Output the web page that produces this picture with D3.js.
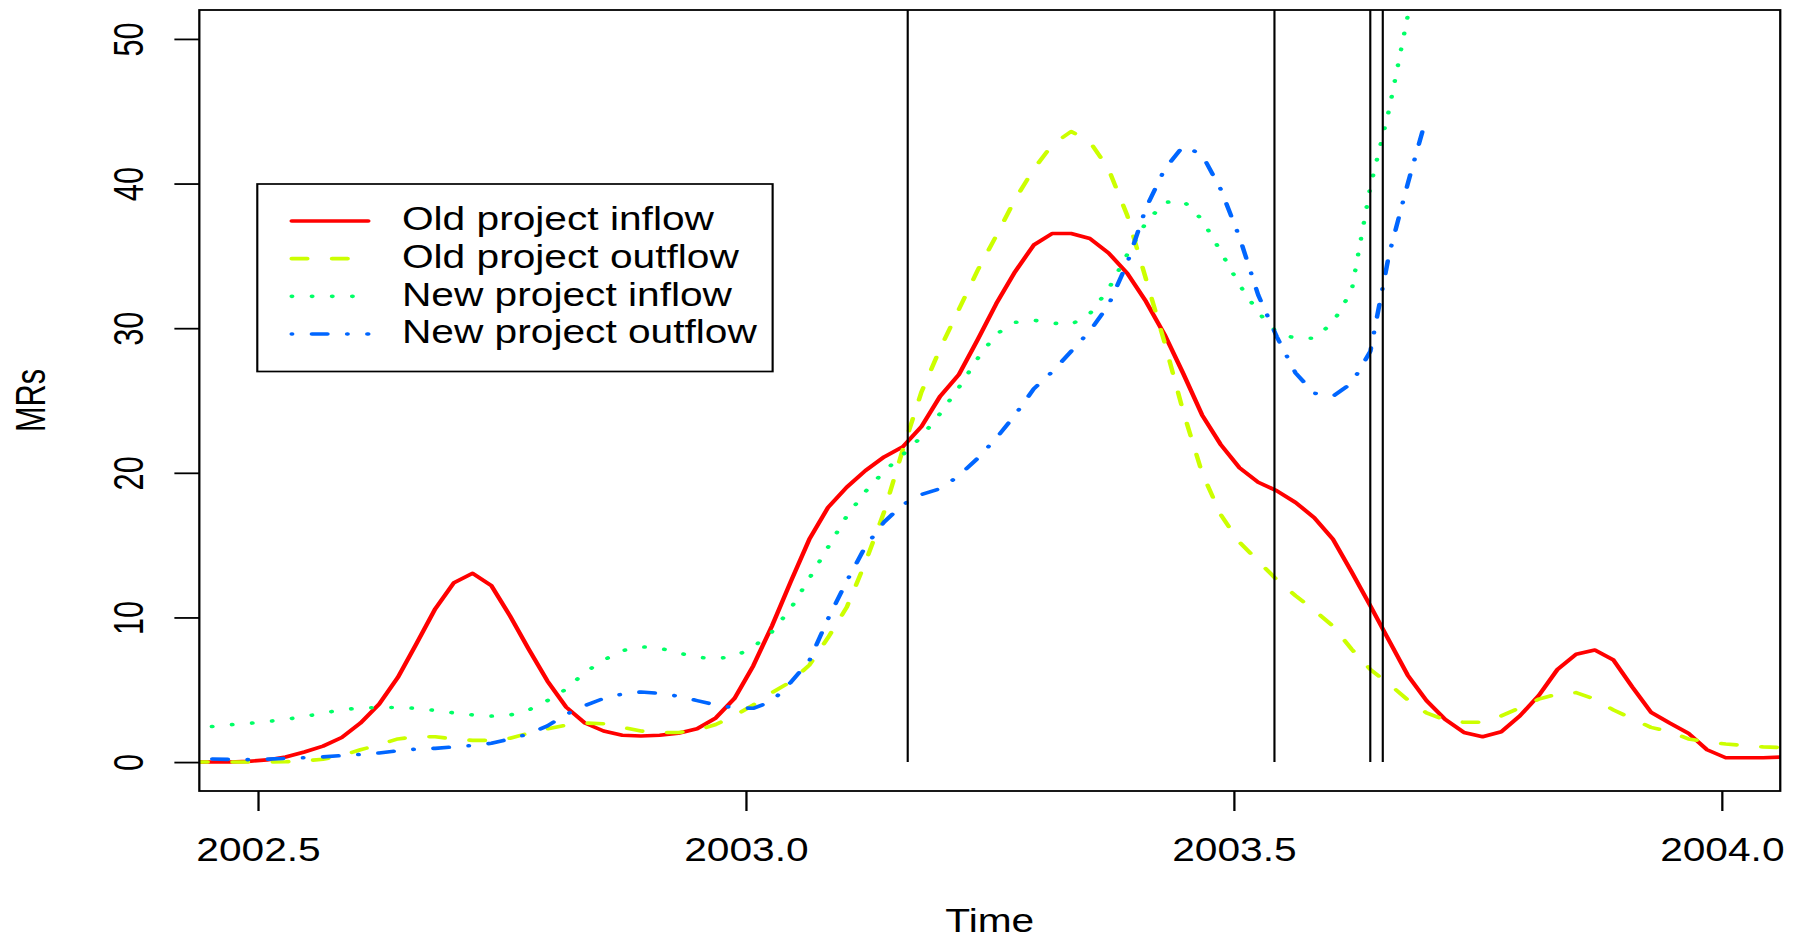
<!DOCTYPE html>
<html>
<head>
<meta charset="utf-8">
<script src="https://cdn.jsdelivr.net/npm/d3@7"></script>
<style>
  body { margin: 0; background: #fff; }
  svg { display: block; }
</style>
</head>
<body>
<script>
// weekly series (like an R ts with start / deltat)
const start = 2002.4326;
const step = 7 / 365.25;

const oldInflow = [0.0, 0.0, 0.0, 0.05, 0.15, 0.35, 0.7, 1.1, 1.7, 2.7,
    4.0, 5.85, 8.2, 10.6, 12.4, 13.05, 12.2, 10.1, 7.8, 5.6,
    3.8, 2.7, 2.15, 1.85, 1.8, 1.85, 2.0, 2.3, 3.05, 4.4,
    6.65, 9.4, 12.45, 15.4, 17.6, 19.0, 20.15, 21.1, 21.8, 23.2,
    25.3, 26.8, 29.2, 31.7, 33.9, 35.75, 36.55, 36.55, 36.2, 35.2,
    33.8, 31.85, 29.55, 26.85, 24.0, 21.95, 20.35, 19.35, 18.75, 17.95,
    16.9, 15.4, 13.15, 10.8, 8.4, 6.0, 4.25, 2.95, 2.05, 1.75,
    2.1, 3.2, 4.6, 6.4, 7.45, 7.75, 7.05, 5.2, 3.45, 2.7,
    2.0, 0.85, 0.3, 0.3, 0.3, 0.35];

const oldOutflow = [0, 0, 0, 0, 0, 0.02, 0.08, 0.2, 0.45, 0.85,
    1.2, 1.6, 1.75, 1.75, 1.6, 1.5, 1.5, 1.65, 2.0, 2.3,
    2.55, 2.7, 2.65, 2.4, 2.15, 2.05, 2.05, 2.2, 2.6, 3.2,
    3.95, 4.8, 5.55, 6.7, 8.6, 10.7, 13.8, 17.3, 21.6, 25.6,
    28.6, 31.3, 34.0, 36.4, 38.9, 41.0, 42.7, 43.6, 42.9, 41.0,
    37.8, 33.4, 29.0, 24.2, 20.0, 17.1, 15.2, 13.9, 12.6, 11.5,
    10.5, 9.4, 7.8, 6.4, 5.4, 4.3, 3.4, 2.9, 2.75, 2.75,
    3.2, 3.75, 4.35, 4.7, 4.8, 4.35, 3.6, 3.0, 2.4, 2.1,
    1.6, 1.4, 1.25, 1.15, 1.05, 1.0];

const newInflow = [2.25, 2.45, 2.58, 2.67, 2.8, 2.95, 3.15, 3.38, 3.62, 3.74,
    3.77, 3.77, 3.72, 3.57, 3.4, 3.26, 3.18, 3.25, 3.6, 4.25,
    5.05, 6.2, 7.05, 7.7, 7.97, 7.88, 7.55, 7.25, 7.15, 7.3,
    7.95, 9.0, 10.6, 12.7, 14.85, 17.0, 18.7, 20.1, 21.25, 22.5,
    24.1, 25.9, 27.9, 29.6, 30.4, 30.55, 30.35, 30.25, 31.0, 32.7,
    35.1, 37.3, 38.7, 38.8, 37.5, 35.3, 33.0, 31.1, 29.7, 29.3,
    29.3, 30.4, 32.6, 39.8, 45.1, 51.6, 57.0];

const newOutflow = [0.25, 0.22, 0.18, 0.17, 0.2, 0.25, 0.3, 0.36, 0.45, 0.53,
    0.63, 0.78, 0.9, 0.95, 1.05, 1.15, 1.3, 1.6, 1.95, 2.5,
    3.3, 3.9, 4.4, 4.7, 4.85, 4.75, 4.55, 4.25, 3.95, 3.75,
    3.72, 4.2, 5.5, 7.0, 9.9, 12.5, 14.9, 16.6, 17.8, 18.5,
    18.9, 19.8, 21.0, 22.4, 24.0, 25.8, 27.0, 28.4, 29.8, 31.6,
    34.5, 38.3, 41.0, 42.6, 42.0, 39.6, 36.3, 32.3, 29.4, 26.9,
    25.5, 25.3, 26.2, 28.4, 35.1, 40.0, 44.6];

const seriesNames = ['Old project inflow', 'Old project outflow', 'New project inflow', 'New project outflow'];
const markerYears = [2003.1659, 2003.5417, 2003.6399, 2003.6527];
const xTickValues = [2002.5, 2003.0, 2003.5, 2004.0];
const yTickValues = [0, 10, 20, 30, 40, 50];

// styles (R rainbow(5), lty 1..4)
const colors = ['#FF0000', '#CCFF00', '#00FF66', '#0066FF'];
const dashes = [null, '12.4 19.6', '0.4 15.6', '0.4 15.6 12.4 15.6'];
const font = '"Liberation Sans", Arial, Helvetica, sans-serif';

// the reference picture is stretched horizontally, so draw in a narrower frame and stretch it
const stretch = 1.26;
const W = 1796, H = 939;
const plot = { left: 158.2, right: 1412.9, top: 10, bottom: 791 };

const svg = d3.select('body').append('svg')
    .attr('width', W)
    .attr('height', H)
    .attr('viewBox', `0 0 ${W / stretch} ${H}`)
    .attr('preserveAspectRatio', 'none');

const x = d3.scaleLinear().domain([2002.44, 2004.06]).range([plot.left, plot.right]);
const y = d3.scaleLinear().domain([-2, 52]).range([plot.bottom, plot.top]);

svg.append('defs').append('clipPath').attr('id', 'clip')
    .append('rect')
    .attr('x', plot.left).attr('y', plot.top)
    .attr('width', plot.right - plot.left).attr('height', plot.bottom - plot.top);

//series lines
const series = [oldInflow, oldOutflow, newInflow, newOutflow];
const line = d3.line()
    .x((d, i) => x(start + i * step))
    .y((d) => y(d));

const chart = svg.append('g').attr('clip-path', 'url(#clip)');
chart.selectAll('path.series').data(series).enter().append('path')
    .attr('class', 'series')
    .attr('d', line)
    .attr('fill', 'none')
    .attr('stroke', (d, i) => colors[i])
    .attr('stroke-width', 3.6)
    .attr('stroke-linejoin', 'round')
    .attr('stroke-linecap', 'round')
    .attr('stroke-dasharray', (d, i) => dashes[i]);

//vertical marker lines, drawn up from zero
chart.selectAll('line.marker').data(markerYears).enter().append('line')
    .attr('class', 'marker')
    .attr('x1', (d) => x(d)).attr('x2', (d) => x(d))
    .attr('y1', y(0)).attr('y2', y(52))
    .attr('stroke', '#000')
    .attr('stroke-width', 1.7);

//box
svg.append('rect')
    .attr('x', plot.left).attr('y', plot.top)
    .attr('width', plot.right - plot.left).attr('height', plot.bottom - plot.top)
    .attr('fill', 'none').attr('stroke', '#000').attr('stroke-width', 1.8);

//x axis
const xAxis = svg.append('g')
    .attr('transform', `translate(0,${plot.bottom})`)
    .call(d3.axisBottom(x).tickValues(xTickValues).tickFormat(d3.format('.1f')).tickSize(20).tickSizeOuter(0));
xAxis.attr('font-family', font).attr('font-size', 32.3);
xAxis.select('.domain').remove();
xAxis.selectAll('.tick line').attr('stroke-width', 1.8);
xAxis.selectAll('.tick text').attr('y', 70).attr('dy', null);

//y axis with rotated labels
const yAxis = svg.append('g')
    .attr('transform', `translate(${plot.left},0)`)
    .call(d3.axisLeft(y).tickValues(yTickValues).tickSize(19.8).tickSizeOuter(0));
yAxis.attr('font-family', font).attr('font-size', 30.7);
yAxis.select('.domain').remove();
yAxis.selectAll('.tick line').attr('stroke-width', 1.8);
yAxis.selectAll('.tick text')
    .attr('x', null).attr('dy', null)
    .attr('text-anchor', 'middle')
    .attr('transform', 'translate(-44.9,0) rotate(-90) scale(1,1.087)');

//axis titles
svg.append('text')
    .attr('x', (plot.left + plot.right) / 2).attr('y', 932)
    .attr('text-anchor', 'middle')
    .attr('font-family', font).attr('font-size', 32.3)
    .text('Time');
svg.append('text')
    .attr('transform', `translate(35.7,${(plot.top + plot.bottom) / 2}) rotate(-90) scale(1,1.087)`)
    .attr('text-anchor', 'middle')
    .attr('font-family', font).attr('font-size', 30.7)
    .text('MRs');

//legend
const legend = svg.append('g');
legend.append('rect')
    .attr('x', 204.2).attr('y', 184)
    .attr('width', 409).attr('height', 187.5)
    .attr('fill', '#fff').attr('stroke', '#000').attr('stroke-width', 1.7);
const rows = legend.selectAll('g.row').data(seriesNames).enter().append('g')
    .attr('class', 'row')
    .attr('transform', (d, i) => `translate(0,${221 + i * 37.67})`);
rows.append('line')
    .attr('x1', 231.5).attr('x2', 292.3)
    .attr('stroke', (d, i) => colors[i])
    .attr('stroke-width', 3.6)
    .attr('stroke-linecap', 'round')
    .attr('stroke-dasharray', (d, i) => dashes[i]);
rows.append('text')
    .attr('x', 319).attr('y', 9.3)
    .attr('font-family', font).attr('font-size', 32.3)
    .text(String);
</script>
</body>
</html>
